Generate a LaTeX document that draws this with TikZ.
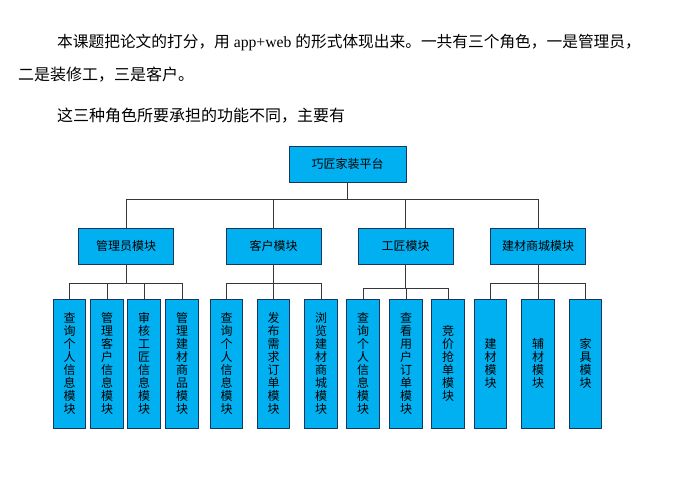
\documentclass[tikz,border=0pt]{standalone}
\usepackage{fontspec}
\setmainfont{Noto Sans CJK SC}
\newfontfamily\latinfont{Liberation Serif}
\usetikzlibrary{positioning}
\usepackage{xcolor}
\definecolor{boxblue}{RGB}{0,176,240}
\definecolor{boxline}{RGB}{23,55,94}
\definecolor{linkgray}{RGB}{55,55,55}

\begin{document}
\begin{tikzpicture}[x=1pt, y=-1pt,
  para/.style={anchor=west, inner sep=0pt, font=\fontsize{16}{16}\selectfont},
  rootbox/.style={draw=boxline, fill=boxblue, line width=0.9pt,
             minimum width=117pt, minimum height=36pt, font=\fontsize{12}{12}\selectfont},
  modbox/.style={draw=boxline, fill=boxblue, line width=0.9pt,
             minimum width=95pt, minimum height=36pt, font=\fontsize{12}{12}\selectfont},
  leafbox/.style={draw=boxline, fill=boxblue, line width=0.9pt, inner sep=0pt,
             minimum width=32.5pt, minimum height=129pt, align=center,
             font=\fontsize{12}{13}\selectfont},
  link/.style={draw=linkgray, line width=0.9pt}]
\useasboundingbox[fill=white] (0,0) rectangle (685,497);
% intro text
\node[para, font=\fontsize{15.7}{16}\selectfont] (l1) at (57,43)
  {本课题把论文的打分，用{\latinfont\ app+web\ }的形式体现出来。一共有三个角色，一是管理员，};
\node[para] (l2) at (18,75)  {二是装修工，三是客户。};
\node[para] (l3) at (57,116) {这三种角色所要承担的功能不同，主要有};
% tree
\node[rootbox] (root) at (347.5,164) {巧匠家装平台};
\node[modbox] (m1) at (126,246)   {管理员模块};
\node[modbox] (m2) at (273.5,246) {客户模块};
\node[modbox] (m3) at (405.5,246) {工匠模块};
\node[modbox] (m4) at (538,246)   {建材商城模块};
\node[leafbox] (a1) at (69.5,363.5)  {查\\询\\个\\人\\信\\息\\模\\块};
\node[leafbox] (a2) at (107,363.5)   {管\\理\\客\\户\\信\\息\\模\\块};
\node[leafbox] (a3) at (144,363.5)   {审\\核\\工\\匠\\信\\息\\模\\块};
\node[leafbox] (a4) at (182,363.5)   {管\\理\\建\\材\\商\\品\\模\\块};
\node[leafbox] (b1) at (226.5,363.5) {查\\询\\个\\人\\信\\息\\模\\块};
\node[leafbox] (b2) at (273.5,363.5) {发\\布\\需\\求\\订\\单\\模\\块};
\node[leafbox] (b3) at (321,363.5)   {浏\\览\\建\\材\\商\\城\\模\\块};
\node[leafbox] (c1) at (363,363.5)   {查\\询\\个\\人\\信\\息\\模\\块};
\node[leafbox] (c2) at (406,363.5)   {查\\看\\用\\户\\订\\单\\模\\块};
\node[leafbox] (c3) at (448,363.5)   {竞\\价\\抢\\单\\模\\块};
\node[leafbox] (d1) at (490.5,363.5) {建\\材\\模\\块};
\node[leafbox] (d2) at (538,363.5)   {辅\\材\\模\\块};
\node[leafbox] (d3) at (585.5,363.5) {家\\具\\模\\块};
% joints
\coordinate (j0) at (347.5,199);
\coordinate (j1) at (126,283);
\coordinate (j2) at (273.5,283);
\coordinate (j3) at (405.5,288);
\coordinate (j4) at (538,283);
\draw[link] (root.south) -- (j0);
\foreach \m in {m1,m2,m3,m4}{\draw[link] (\m.north) |- (j0);}
\draw[link] (m1.south) -- (j1);
\draw[link] (m2.south) -- (j2);
\draw[link] (m3.south) -- (j3);
\draw[link] (m4.south) -- (j4);
\foreach \s in {a1,a2,a3,a4}{\draw[link] (\s.north) |- (j1);}
\foreach \s in {b1,b2,b3}{\draw[link] (\s.north) |- (j2);}
\foreach \s in {c1,c2,c3}{\draw[link] (\s.north) |- (j3);}
\foreach \s in {d1,d2,d3}{\draw[link] (\s.north) |- (j4);}
\end{tikzpicture}
\end{document}
